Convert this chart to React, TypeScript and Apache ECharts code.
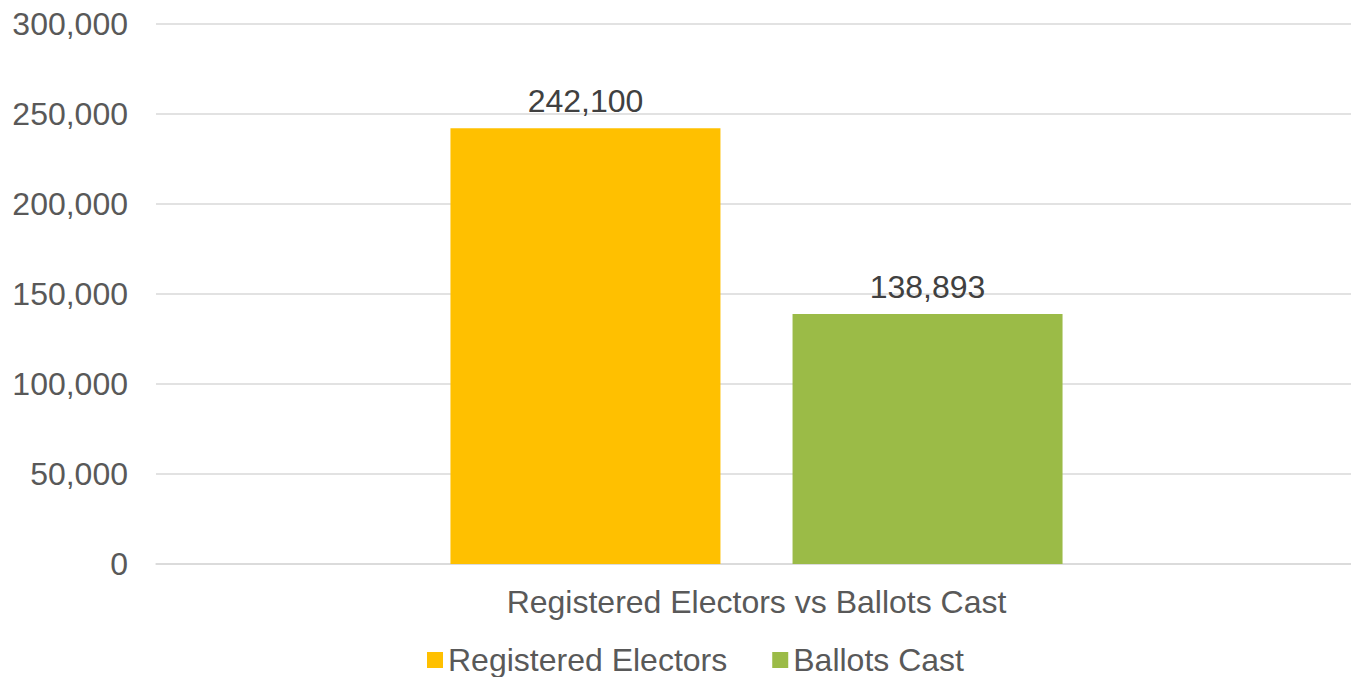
import React, { useEffect, useRef } from "react";
import * as echarts from "echarts";

const categories = ["Registered Electors vs Ballots Cast"];
const seriesNames = ["Registered Electors", "Ballots Cast"];
const registeredElectors = [242100];
const ballotsCast = [138893];
const seriesColors = ["#FFC000", "#9BBB47"];

const FONT = "Liberation Sans, Arial, sans-serif";

export default function App() {
  const ref = useRef<HTMLDivElement>(null);
  useEffect(() => {
    if (!ref.current) return;
    const chart = echarts.init(ref.current, null, { renderer: "svg" });
    const fmt = (v: number) => v.toLocaleString("en-US");
    const label = {
      show: true,
      position: "top",
      distance: 11,
      color: "#404040",
      fontSize: 32,
      fontFamily: FONT,
      formatter: (p: any) => fmt(p.value),
    };
    chart.setOption({
      animation: false,
      backgroundColor: "#ffffff",
      textStyle: { fontFamily: FONT },
      grid: {
        left: 156,
        width: 1201,
        top: 24,
        bottom: 113,
        containLabel: false,
        outerBoundsMode: "none",
      },
      legend: {
        top: 644,
        left: 427,
        padding: 0,
        itemWidth: 16,
        itemHeight: 16,
        itemGap: 45,
        itemTextGap: 12,
        icon: "rect",
        textStyle: { fontSize: 32, color: "#595959", fontFamily: FONT, lineHeight: 30 },
        data: seriesNames,
      },
      xAxis: {
        type: "category",
        data: categories,
        axisLine: { show: true, lineStyle: { color: "#d9d9d9", width: 1.5 } },
        axisTick: { show: false },
        axisLabel: { fontSize: 32, color: "#595959", margin: 22, fontFamily: FONT },
      },
      yAxis: {
        type: "value",
        min: 0,
        max: 300000,
        interval: 50000,
        axisLine: { show: false },
        axisTick: { show: false },
        splitLine: { lineStyle: { color: "#d9d9d9", width: 1.5 } },
        axisLabel: {
          fontSize: 32,
          color: "#595959",
          margin: 28,
          fontFamily: FONT,
          formatter: (v: number) => fmt(v),
        },
      },
      series: [
        {
          name: seriesNames[0],
          type: "bar",
          data: registeredElectors,
          barWidth: 270,
          barGap: "26.7%",
          itemStyle: { color: seriesColors[0] },
          label,
        },
        {
          name: seriesNames[1],
          type: "bar",
          data: ballotsCast,
          barWidth: 270,
          itemStyle: { color: seriesColors[1] },
          label,
        },
      ],
    });
    return () => chart.dispose();
  }, []);
  return (
    <div
      ref={ref}
      style={{ position: "fixed", left: 0, top: 0, width: 1351, height: 677, background: "#fff" }}
    />
  );
}
